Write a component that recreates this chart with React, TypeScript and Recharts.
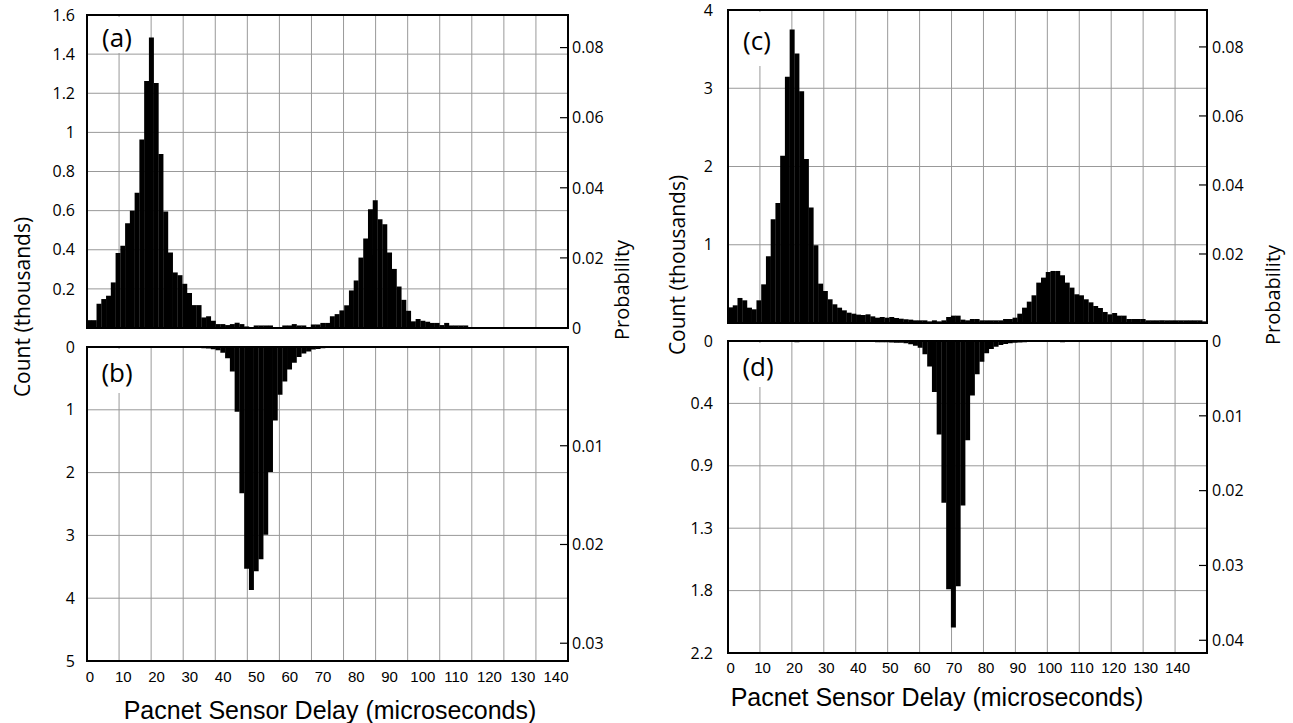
import { BarChart, Bar, XAxis, YAxis, CartesianGrid, ReferenceArea } from 'recharts';

// 101 delay bins across 0-150 microseconds (index of the bin)
const bins = [
  0, 1, 2, 3, 4, 5, 6, 7, 8, 9, 10, 11, 12, 13, 14, 15, 16, 17, 18, 19, 20, 21, 22, 23, 24, 25,
  26, 27, 28, 29, 30, 31, 32, 33, 34, 35, 36, 37, 38, 39, 40, 41, 42, 43, 44, 45, 46, 47, 48, 49, 50,
  51, 52, 53, 54, 55, 56, 57, 58, 59, 60, 61, 62, 63, 64, 65, 66, 67, 68, 69, 70, 71, 72, 73, 74, 75,
  76, 77, 78, 79, 80, 81, 82, 83, 84, 85, 86, 87, 88, 89, 90, 91, 92, 93, 94, 95, 96, 97, 98, 99, 100,
];
const BIN_W = 150 / 101;

// counts in thousands
const countA = [
  0.04, 0.04, 0.124, 0.148, 0.165, 0.233, 0.383, 0.42, 0.536, 0.6,
  0.692, 0.964, 1.262, 1.485, 1.253, 0.889, 0.595, 0.386, 0.284, 0.27,
  0.226, 0.179, 0.117, 0.117, 0.054, 0.06, 0.037, 0.02, 0.02, 0.015,
  0.02, 0.027, 0.02, 0.008, 0.005, 0.013, 0.013, 0.013, 0.013, 0.005,
  0.005, 0.013, 0.013, 0.02, 0.013, 0.013, 0.005, 0.018, 0.018, 0.026,
  0.026, 0.06, 0.071, 0.09, 0.116, 0.192, 0.243, 0.36, 0.457, 0.607,
  0.653, 0.556, 0.53, 0.386, 0.302, 0.212, 0.144, 0.088, 0.034, 0.046,
  0.037, 0.032, 0.026, 0.026, 0.015, 0.026, 0.013, 0.013, 0.013, 0.013,
  0.003, 0.005, 0.003, 0.005, 0.005, 0.003, 0.005, 0.003, 0.005, 0.005,
  0.003, 0.005, 0.003, 0.005, 0.005, 0.003, 0.005, 0.005, 0.003, 0.005,
  0.005,
];

const countB = [
  0, 0, 0.005, 0, 0, 0.005, 0, 0.01, 0, 0,
  0.005, 0.005, 0.01, 0.01, 0.01, 0.01, 0.01, 0.005, 0.005, 0.005,
  0.005, 0.01, 0.015, 0.015, 0.02, 0.025, 0.035, 0.05, 0.09, 0.18,
  0.39, 1.03, 2.33, 3.53, 3.87, 3.57, 3.38, 2.99, 1.99, 1.17,
  0.76, 0.55, 0.36, 0.25, 0.16, 0.105, 0.07, 0.04, 0.03, 0.02,
  0.015, 0.01, 0.008, 0.008, 0.005, 0.008, 0.005, 0.005, 0.008, 0.005,
  0.005, 0.005, 0, 0.005, 0.005, 0, 0.005, 0, 0.005, 0.005,
  0, 0.005, 0.005, 0, 0.005, 0.005, 0, 0.005, 0.005, 0,
  0.005, 0.005, 0, 0.005, 0.005, 0.005, 0.015, 0.005, 0.005, 0.005,
  0.005, 0.005, 0.005, 0.005, 0.005, 0.005, 0.005, 0.005, 0.005, 0.005,
  0.005,
];

const countC = [
  0.2, 0.226, 0.32, 0.29, 0.196, 0.175, 0.29, 0.494, 0.853, 1.326,
  1.535, 2.136, 3.146, 3.751, 3.444, 2.962, 2.097, 1.475, 0.993, 0.503,
  0.409, 0.303, 0.239, 0.196, 0.162, 0.132, 0.119, 0.107, 0.102, 0.111,
  0.085, 0.068, 0.077, 0.068, 0.077, 0.064, 0.055, 0.047, 0.043, 0.034,
  0.034, 0.034, 0.021, 0.034, 0.021, 0.034, 0.077, 0.094, 0.094, 0.043,
  0.034, 0.051, 0.051, 0.034, 0.034, 0.034, 0.034, 0.034, 0.051, 0.051,
  0.068, 0.119, 0.196, 0.273, 0.354, 0.516, 0.58, 0.652, 0.665, 0.665,
  0.61, 0.516, 0.452, 0.367, 0.354, 0.303, 0.264, 0.217, 0.192, 0.141,
  0.111, 0.128, 0.094, 0.094, 0.051, 0.051, 0.051, 0.051, 0.034, 0.034,
  0.034, 0.034, 0.034, 0.034, 0.034, 0.034, 0.034, 0.034, 0.034, 0.034,
  0.021,
];

const countD = [
  0, 0, 0, 0, 0, 0, 0, 0, 0, 0,
  0, 0, 0, 0, 0.008, 0, 0, 0, 0, 0,
  0, 0, 0, 0.005, 0.006, 0.005, 0.006, 0.006, 0.006, 0.005,
  0.006, 0.008, 0.008, 0.008, 0.01, 0.012, 0.012, 0.016, 0.023, 0.033,
  0.047, 0.094, 0.18, 0.36, 0.66, 1.14, 1.75, 2.02, 1.73, 1.16,
  0.7, 0.385, 0.235, 0.146, 0.087, 0.056, 0.04, 0.028, 0.021, 0.015,
  0.012, 0.01, 0.008, 0.006, 0, 0, 0, 0, 0, 0,
  0.008, 0, 0, 0, 0, 0, 0, 0, 0, 0,
  0, 0, 0, 0, 0, 0, 0, 0, 0, 0,
  0, 0, 0, 0, 0, 0, 0, 0, 0, 0,
  0,
];

const xTicks = [0, 10, 20, 30, 40, 50, 60, 70, 80, 90, 100, 110, 120, 130, 140];

const countTicksA = [0.2, 0.4, 0.6, 0.8, 1, 1.2, 1.4, 1.6];
const countTicksB = [0, 1, 2, 3, 4, 5];
const countTicksC = [1, 2, 3, 4];
const countTicksD = [0, 0.44, 0.88, 1.32, 1.76, 2.2];

const probTicksA = [0, 0.02, 0.04, 0.06, 0.08];
const probTicksB = [0.01, 0.02, 0.03];
const probTicksC = [0.02, 0.04, 0.06, 0.08];
const probTicksD = [0, 0.01, 0.02, 0.03, 0.04];

const AXW = 80;
const RAXW = 70;
const PAD = 12;
const XH = 30;

const ProbTick = (props: any) => {
  const { x, y, payload, gap } = props;
  const v = payload.value;
  return (
    <g>
      <line x1={x - 8} x2={x} y1={y} y2={y} stroke="#000" strokeWidth={1.2} />
      <text x={x + gap} y={y} dy="0.36em" textAnchor="start" fontFamily="Open Sans" fontSize={16} fill="#000">
        {v === 0 ? '0' : String(v)}
      </text>
    </g>
  );
};

type PanelProps = {
  values: number[];
  left: number;
  top: number;
  width: number;
  height: number;
  countDomain: [number, number];
  countTicks: number[];
  countFmt?: (v: number) => string;
  countGap: number;
  probDomain: [number, number];
  probTicks: number[];
  probGap: number;
  reversed?: boolean;
  labelDomain?: [number, number];
  labelGap?: number;
};

const Panel = (p: PanelProps) => {
  const data = bins.map((b, i) => ({ bin: b, x: (b + 0.5) * BIN_W, v: p.values[i] }));
  const hasX = !!p.labelDomain;
  const w = p.width + AXW + RAXW;
  const h = PAD + p.height + (hasX ? XH : PAD);
  return (
    <div style={{ position: 'absolute', left: p.left - AXW, top: p.top - PAD }}>
      <BarChart
        width={w}
        height={h}
        data={data}
        margin={{ top: PAD, right: 0, bottom: hasX ? 0 : PAD, left: 0 }}
        barCategoryGap={0}
      >
        {hasX && (
          <XAxis
            xAxisId="lbl"
            dataKey="x"
            type="number"
            domain={p.labelDomain}
            ticks={xTicks}
            interval={0}
            allowDataOverflow
            axisLine={false}
            tickLine={false}
            tickSize={0}
            tickMargin={p.labelGap}
            height={XH}
            tick={{ fontFamily: 'Liberation Sans', fontSize: 15, fill: '#000' }}
          />
        )}
        <XAxis xAxisId="num" dataKey="x" type="number" domain={[0, 150]} ticks={xTicks} hide height={0} allowDataOverflow />
        <XAxis xAxisId="cat" dataKey="bin" hide height={0} />
        <YAxis
          yAxisId="count"
          domain={p.countDomain}
          ticks={p.countTicks}
          reversed={p.reversed}
          interval={0}
          allowDataOverflow
          width={AXW}
          axisLine={false}
          tickLine={false}
          tickSize={0}
          tickMargin={p.countGap}
          tickFormatter={p.countFmt}
          tick={{ fontFamily: 'Open Sans', fontSize: 16, fill: '#000' }}
        />
        <YAxis
          yAxisId="prob"
          orientation="right"
          domain={p.probDomain}
          ticks={p.probTicks}
          reversed={p.reversed}
          interval={0}
          allowDataOverflow
          width={RAXW}
          axisLine={false}
          tickLine={false}
          tickSize={0}
          tickMargin={0}
          tick={(tp: any) => <ProbTick {...tp} gap={p.probGap} />}
        />
        <CartesianGrid xAxisId="num" yAxisId="count" stroke="#999" />
        <Bar xAxisId="cat" yAxisId="count" dataKey="v" fill="#000" isAnimationActive={false} />
        <ReferenceArea
          xAxisId="num"
          yAxisId="count"
          x1={0}
          x2={150}
          y1={p.countDomain[0]}
          y2={p.countDomain[1]}
          fill="none"
          stroke="#000"
          strokeWidth={2}
          ifOverflow="visible"
        />
      </BarChart>
    </div>
  );
};

const abs = { position: 'absolute' as const, whiteSpace: 'nowrap' as const, color: '#000' };

const PanelTag = ({ text, box, cx, cy }: { text: string; box: [number, number, number, number]; cx: number; cy: number }) => (
  <>
    <div style={{ position: 'absolute', left: box[0], top: box[1], width: box[2], height: box[3], background: '#fff' }} />
    <div style={{ ...abs, left: cx, top: cy, transform: 'translate(-50%, -50%)', fontFamily: 'Open Sans', fontSize: 26, lineHeight: 1 }}>
      {text}
    </div>
  </>
);

const d1 = (v: number) => (v === 0 ? '0' : v.toFixed(1));

export default function App() {
  return (
    <div style={{ position: 'absolute', left: 0, top: 0, width: 1293, height: 723, background: '#fff', overflow: 'hidden' }}>
      <Panel
        values={countA}
        left={87}
        top={15}
        width={481}
        height={313}
        countDomain={[0, 1.6]}
        countTicks={countTicksA}
        countGap={12}
        probDomain={[0, 0.0893]}
        probTicks={probTicksA}
        probGap={4}
      />
      <Panel
        values={countB}
        left={87}
        top={347}
        width={481}
        height={314}
        countDomain={[0, 5]}
        countTicks={countTicksB}
        countGap={12}
        probDomain={[0, 0.0318]}
        probTicks={probTicksB}
        probGap={4}
        reversed
        labelDomain={[-0.9, 143.6]}
        labelGap={10}
      />
      <Panel
        values={countC}
        left={728}
        top={10}
        width={479}
        height={313}
        countDomain={[0, 4]}
        countTicks={countTicksC}
        countGap={15}
        probDomain={[0, 0.0907]}
        probTicks={probTicksC}
        probGap={5}
      />
      <Panel
        values={countD}
        left={728}
        top={341}
        width={479}
        height={312}
        countDomain={[0, 2.2]}
        countTicks={countTicksD}
        countFmt={d1}
        countGap={15}
        probDomain={[0, 0.0417]}
        probTicks={probTicksD}
        probGap={5}
        reversed
        labelDomain={[-0.8, 149.2]}
        labelGap={9}
      />

      <PanelTag text="(a)" box={[92, 17, 50, 36]} cx={117} cy={37} />
      <PanelTag text="(b)" box={[92, 349, 50, 44]} cx={117} cy={372} />
      <PanelTag text="(c)" box={[733, 12, 50, 54]} cx={757} cy={40} />
      <PanelTag text="(d)" box={[733, 343, 50, 44]} cx={758} cy={366} />

      <div style={{ ...abs, left: 22, top: 307, transform: 'translate(-50%, -50%) rotate(-90deg)', fontFamily: 'Open Sans', fontSize: 21 }}>
        Count (thousands)
      </div>
      <div style={{ ...abs, left: 677, top: 265, transform: 'translate(-50%, -50%) rotate(-90deg)', fontFamily: 'Open Sans', fontSize: 21 }}>
        Count (thousands)
      </div>
      <div style={{ ...abs, left: 621, top: 290, transform: 'translate(-50%, -50%) rotate(-90deg)', fontFamily: 'Open Sans', fontSize: 20 }}>
        Probability
      </div>
      <div style={{ ...abs, left: 1272, top: 295, transform: 'translate(-50%, -50%) rotate(-90deg)', fontFamily: 'Open Sans', fontSize: 20 }}>
        Probability
      </div>
      <div style={{ ...abs, left: 330, top: 710, transform: 'translate(-50%, -50%)', fontFamily: 'Liberation Sans', fontSize: 25 }}>
        Pacnet Sensor Delay (microseconds)
      </div>
      <div style={{ ...abs, left: 937, top: 697, transform: 'translate(-50%, -50%)', fontFamily: 'Liberation Sans', fontSize: 25 }}>
        Pacnet Sensor Delay (microseconds)
      </div>
    </div>
  );
}
